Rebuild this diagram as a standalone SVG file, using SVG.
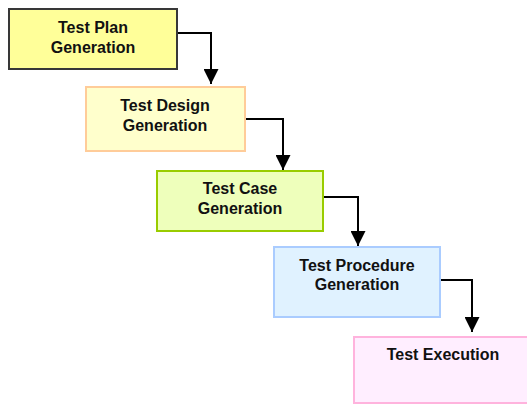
<svg xmlns="http://www.w3.org/2000/svg" width="527" height="405" viewBox="0 0 527 405">
<defs>
<marker id="ah" markerWidth="15" markerHeight="15" refX="15" refY="7.5" orient="auto" markerUnits="userSpaceOnUse">
<path d="M0,0 L15,7.5 L0,15 Z" fill="#000"/>
</marker>
<style>
text{font-family:"Liberation Sans",Arial,sans-serif;font-weight:bold;font-size:16px;fill:#111;text-anchor:middle}
.box{stroke-width:2}
.conn{fill:none;stroke:#000;stroke-width:2;marker-end:url(#ah)}
</style>
</defs>
<rect width="527" height="405" fill="#fff"/>
<g id="connectors">
<path class="conn" d="M177,33 H211 V84"/>
<path class="conn" d="M245,119 H283 V170"/>
<path class="conn" d="M323,197 H358 V246"/>
<path class="conn" d="M440,280 H472 V332"/>
</g>
<g id="n1">
<rect class="box" x="9" y="9" width="168" height="60" fill="#ffff99" stroke="#383838"/>
<text x="93" y="33">Test Plan</text>
<text x="93" y="53">Generation</text>
</g>
<g id="n2">
<rect class="box" x="86" y="87" width="159" height="64" fill="#ffffcc" stroke="#ffcc99"/>
<text x="165" y="111">Test Design</text>
<text x="165" y="131">Generation</text>
</g>
<g id="n3">
<rect class="box" x="157" y="171" width="166" height="60" fill="#eeffbb" stroke="#99cc00"/>
<text x="240" y="194">Test Case</text>
<text x="240" y="214">Generation</text>
</g>
<g id="n4">
<rect class="box" x="274" y="247" width="166" height="70" fill="#e0f2ff" stroke="#aaccff"/>
<text x="357" y="271">Test Procedure</text>
<text x="357" y="290">Generation</text>
</g>
<g id="n5">
<rect class="box" x="354" y="337" width="182" height="66" fill="#ffeeff" stroke="#ffb3dd"/>
<text x="443" y="360">Test Execution</text>
</g>
</svg>
